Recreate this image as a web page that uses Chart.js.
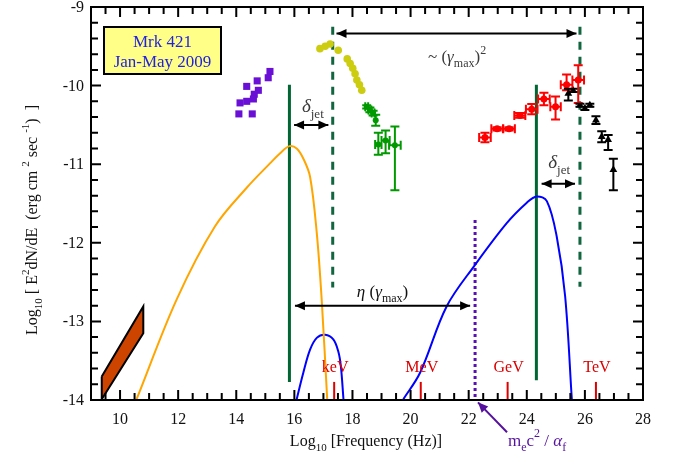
<!DOCTYPE html>
<html>
<head>
<meta charset="utf-8">
<script src="https://cdn.jsdelivr.net/npm/chart.js@4"></script>
<style>
  body { margin: 0; background: #fff; }
  #wrap { width: 676px; height: 462px; position: relative; }
</style>
</head>
<body>
<div id="wrap"><canvas id="sedChart"></canvas></div>
<script>
// values: x = log10 nu (Hz), y = log10 E^2 dN/dE
const radioX = [9.37, 10.80, 10.80, 9.37, 9.37];
const radioY = [-13.70, -12.81, -13.15, -13.99, -13.70];

const opticalX = [14.09, 14.55, 14.13, 14.36, 14.36, 14.72, 14.76, 14.62, 14.59, 15.16, 15.10];
const opticalY = [-10.36, -10.36, -10.22, -10.20, -10.01, -9.94, -10.06, -10.11, -10.17, -9.82, -9.90];

const xrayX = [16.88, 17.06, 17.23, 17.51, 17.82, 17.92, 18.01, 18.09, 18.15, 18.24, 18.32];
const xrayY = [-9.53, -9.50, -9.47, -9.55, -9.66, -9.72, -9.78, -9.85, -9.93, -9.99, -10.06];

const hardX = [18.49, 18.60, 18.71, 18.80, 18.89, 19.14, 19.46];
const hardY = [-10.27, -10.31, -10.35, -10.44, -10.75, -10.70, -10.76];
const hardEx = [0.05, 0.05, 0.05, 0, 0.11, 0.14, 0.20];
const hardEyUp = [0.02, 0.03, 0.03, 0.07, 0.15, 0.13, 0.24];
const hardEyDn = [0.02, 0.03, 0.03, 0.07, 0.13, 0.16, 0.57];

const fermiX = [22.56, 22.98, 23.39, 23.76, 24.17, 24.59, 24.99, 25.37, 25.77];
const fermiY = [-10.66, -10.55, -10.55, -10.38, -10.30, -10.17, -10.27, -9.99, -9.93];
const fermiEx = [0.20, 0.20, 0.20, 0.19, 0.20, 0.20, 0.18, 0.20, 0.20];
const fermiEyUp = [0.06, 0.02, 0.02, 0.03, 0.065, 0.08, 0.13, 0.13, 0.19];
const fermiEyDn = [0.06, 0.02, 0.02, 0.03, 0.065, 0.08, 0.16, 0.07, 0.29];

const magicX = [25.43, 25.59, 25.83, 26.00, 26.17, 26.38, 26.58, 26.80, 26.98];
const magicY = [-10.10, -10.06, -10.25, -10.29, -10.25, -10.44, -10.65, -10.69, -11.07];
const magicEyUp = [0.06, 0.02, 0.02, 0.02, 0.02, 0.05, 0.07, 0.06, 0.14];
const magicEyDn = [0.09, 0.02, 0.02, 0.02, 0.02, 0.05, 0.07, 0.13, 0.26];

const syncX = [10.57, 11.95, 13.27, 14.36, 15.16, 15.51, 15.83, 16.08, 16.31, 16.54, 16.77, 16.94, 17.13];
const syncY = [-13.99, -12.72, -11.79, -11.30, -10.99, -10.86, -10.77, -10.80, -10.93, -11.16, -11.87, -12.72, -13.99];

const icLowX = [16.08, 16.31, 16.54, 16.77, 17.06, 17.34, 17.51, 17.60, 17.69];
const icLowY = [-13.99, -13.65, -13.36, -13.21, -13.17, -13.23, -13.38, -13.57, -13.99];

const icX = [19.75, 20.33, 21.24, 22.22, 23.31, 24.00, 24.34, 24.69, 25.03, 25.32, 25.55];
const icY = [-13.99, -13.65, -12.81, -12.28, -11.75, -11.49, -11.41, -11.47, -11.92, -12.68, -13.99];

// vertical markers: [x, yTop, yBottom]
const peakLines = [[15.83, -9.99, -13.77], [24.33, -9.99, -13.75]];
const cutLines = [[17.32, -9.25, -12.57], [25.83, -9.25, -12.56]];
const klein = [22.22, -11.71, -14.0];

const energyX = [17.37, 20.35, 23.34, 26.38];
const energyNames = ['keV', 'MeV', 'GeV', 'TeV'];

const xTickLabels = [10, 12, 14, 16, 18, 20, 22, 24, 26, 28];
const yTickLabels = [-9, -10, -11, -12, -13, -14];

// arrows: from, to, double headed
const arrows = [
  { from: [17.45, -9.336], to: [25.71, -9.336], both: true },
  { from: [15.99, -10.50], to: [17.17, -10.50], both: true },
  { from: [24.51, -11.25], to: [25.66, -11.25], both: true },
  { from: [16.02, -12.80], to: [22.05, -12.80], both: true },
  { from: [23.32, -14.41], to: [22.32, -14.03], both: false, color: '#55119e' }
];

const serif = '"Liberation Serif", "DejaVu Serif", serif';

function pts(xs, ys) {
  return xs.map((x, i) => ({ x: x, y: ys[i] }));
}

function richText(ctx, x, y, parts, size, color, align) {
  const fontFor = m => {
    const small = m === 'sub' || m === 'sup' || m === 'isub';
    const it = m === 'i' || m === 'isub';
    return (it ? 'italic ' : '') + Math.round(small ? size * 0.7 : size) + 'px ' + serif;
  };
  let w = 0;
  parts.forEach(([t, m]) => { ctx.font = fontFor(m); w += ctx.measureText(t).width; });
  let cx = align === 'center' ? x - w / 2 : (align === 'right' ? x - w : x);
  ctx.fillStyle = color;
  ctx.textAlign = 'left';
  ctx.textBaseline = 'alphabetic';
  parts.forEach(([t, m]) => {
    ctx.font = fontFor(m);
    let dy = 0;
    if (m === 'sub' || m === 'isub') dy = size * 0.3;
    if (m === 'sup') dy = -size * 0.5;
    ctx.fillText(t, cx, y + dy);
    cx += ctx.measureText(t).width;
  });
}

function arrowHead(ctx, x1, y1, x2, y2) {
  const a = Math.atan2(y2 - y1, x2 - x1);
  const len = 10, half = 4.5;
  ctx.beginPath();
  ctx.moveTo(x2, y2);
  ctx.lineTo(x2 - len * Math.cos(a) + half * Math.sin(a), y2 - len * Math.sin(a) - half * Math.cos(a));
  ctx.lineTo(x2 - len * Math.cos(a) - half * Math.sin(a), y2 - len * Math.sin(a) + half * Math.cos(a));
  ctx.closePath();
  ctx.fill();
}

// error bars drawn through the chart scales
const errorBars = {
  id: 'errorBars',
  afterDatasetsDraw(chart) {
    const { ctx, scales: { x, y } } = chart;
    chart.data.datasets.forEach(ds => {
      if (!ds.errors) return;
      const e = ds.errors;
      const cap = 4.5;
      ctx.save();
      ctx.strokeStyle = ds.borderColor;
      ctx.lineWidth = 2;
      ctx.beginPath();
      ds.data.forEach((p, i) => {
        const px = x.getPixelForValue(p.x), py = y.getPixelForValue(p.y);
        if (e.ex && e.ex[i]) {
          const l = x.getPixelForValue(p.x - e.ex[i]), r = x.getPixelForValue(p.x + e.ex[i]);
          ctx.moveTo(l, py); ctx.lineTo(r, py);
          ctx.moveTo(l, py - cap); ctx.lineTo(l, py + cap);
          ctx.moveTo(r, py - cap); ctx.lineTo(r, py + cap);
        }
        if (e.eyUp) {
          const t = y.getPixelForValue(p.y + e.eyUp[i]), b = y.getPixelForValue(p.y - e.eyDn[i]);
          ctx.moveTo(px, t); ctx.lineTo(px, b);
          ctx.moveTo(px - cap, t); ctx.lineTo(px + cap, t);
          ctx.moveTo(px - cap, b); ctx.lineTo(px + cap, b);
        }
      });
      ctx.stroke();
      ctx.restore();
    });
  }
};

// frame, inward ticks, labels and annotations
const decorations = {
  id: 'decorations',
  afterDraw(chart) {
    const { ctx, chartArea: a, scales: { x, y } } = chart;
    ctx.save();

    // energy markers
    ctx.strokeStyle = '#dd0000';
    ctx.lineWidth = 2;
    energyX.forEach((v, i) => {
      const px = x.getPixelForValue(v);
      ctx.beginPath();
      ctx.moveTo(px, y.getPixelForValue(-13.77));
      ctx.lineTo(px, a.bottom);
      ctx.stroke();
      richText(ctx, px + 1, y.getPixelForValue(-13.65), [[energyNames[i], 'n']], 16, '#dd0000', 'center');
    });

    // frame
    ctx.strokeStyle = '#000';
    ctx.lineWidth = 2;
    ctx.strokeRect(a.left, a.top, a.right - a.left, a.bottom - a.top);
    ctx.beginPath();
    for (let v = 9.5; v < 28; v += 0.5) {
      const px = x.getPixelForValue(v);
      const len = Math.abs(v % 2) < 1e-6 ? 10 : 7;
      ctx.moveTo(px, a.bottom); ctx.lineTo(px, a.bottom - len);
      ctx.moveTo(px, a.top); ctx.lineTo(px, a.top + len);
    }
    for (let k = 1; k < 25; k++) {
      const v = -14 + k * 0.2;
      const py = y.getPixelForValue(v);
      const len = k % 5 === 0 ? 10 : 7;
      ctx.moveTo(a.left, py); ctx.lineTo(a.left + len, py);
      ctx.moveTo(a.right, py); ctx.lineTo(a.right - len, py);
    }
    ctx.stroke();

    // tick labels
    xTickLabels.forEach(v => {
      richText(ctx, x.getPixelForValue(v), 424, [[String(v), 'n']], 16, '#111', 'center');
    });
    yTickLabels.forEach(v => {
      richText(ctx, 84, y.getPixelForValue(v) + 5, [[String(v), 'n']], 16, '#111', 'right');
    });

    // axis titles
    richText(ctx, 366, 446, [['Log', 'n'], ['10', 'sub'], [' [Frequency (Hz)]', 'n']], 16, '#111', 'center');
    ctx.save();
    ctx.translate(37, 220);
    ctx.rotate(-Math.PI / 2);
    richText(ctx, 0, 0, [['Log', 'n'], ['10', 'sub'], [' [ E', 'n'], ['2', 'sup'], ['dN/dE  (erg cm ', 'n'],
      ['2', 'sup'], [' sec ', 'n'], ['-1', 'sup'], [')  ]', 'n']], 16, '#111', 'center');
    ctx.restore();

    // arrows
    arrows.forEach(ar => {
      const x1 = x.getPixelForValue(ar.from[0]), y1 = y.getPixelForValue(ar.from[1]);
      const x2 = x.getPixelForValue(ar.to[0]), y2 = y.getPixelForValue(ar.to[1]);
      ctx.strokeStyle = ar.color || '#000';
      ctx.fillStyle = ar.color || '#000';
      ctx.lineWidth = 2;
      ctx.beginPath();
      ctx.moveTo(x1, y1); ctx.lineTo(x2, y2);
      ctx.stroke();
      arrowHead(ctx, x1, y1, x2, y2);
      if (ar.both) arrowHead(ctx, x2, y2, x1, y1);
    });

    // annotation text
    const grey = '#3a3a3a';
    richText(ctx, x.getPixelForValue(16.26), y.getPixelForValue(-10.334), [['δ', 'i'], ['jet', 'sub']], 19, grey, 'left');
    richText(ctx, x.getPixelForValue(24.74), y.getPixelForValue(-11.05), [['δ', 'i'], ['jet', 'sub']], 19, grey, 'left');
    richText(ctx, x.getPixelForValue(20.60), y.getPixelForValue(-9.70),
      [['~ (', 'n'], ['γ', 'i'], ['max', 'sub'], [')', 'n'], ['2', 'sup']], 17, grey, 'left');
    richText(ctx, x.getPixelForValue(18.15), y.getPixelForValue(-12.685),
      [['η', 'i'], [' (', 'n'], ['γ', 'i'], ['max', 'sub'], [')', 'n']], 17, '#111', 'left');
    richText(ctx, x.getPixelForValue(23.35), y.getPixelForValue(-14.58),
      [['m', 'n'], ['e', 'sub'], ['c', 'n'], ['2', 'sup'], [' / ', 'n'], ['α', 'i'], ['f', 'sub']], 17, '#55119e', 'left');

    // source box
    ctx.fillStyle = '#ffff88';
    ctx.fillRect(104, 27, 117, 47);
    ctx.strokeStyle = '#000';
    ctx.lineWidth = 2;
    ctx.strokeRect(104, 27, 117, 47);
    richText(ctx, 162.5, 47, [['Mrk 421', 'n']], 17, '#2222dd', 'center');
    richText(ctx, 162.5, 67, [['Jan-May 2009', 'n']], 17, '#2222dd', 'center');

    ctx.restore();
  }
};

function vline(v, color, dash, width) {
  return {
    data: [{ x: v[0], y: v[1] }, { x: v[0], y: v[2] }],
    showLine: true, pointRadius: 0, borderColor: color, borderWidth: width,
    borderDash: dash, order: 5
  };
}

function curve(xs, ys, color) {
  return {
    data: pts(xs, ys), showLine: true, pointRadius: 0, borderColor: color,
    borderWidth: 2, tension: 0.35, order: 4
  };
}

const datasets = [
  {
    data: pts(radioX, radioY), showLine: true, pointRadius: 0,
    borderColor: '#000', borderWidth: 2, backgroundColor: '#cc4400', fill: 'shape', order: 6
  },
  curve(syncX, syncY, '#ffa500'),
  curve(icLowX, icLowY, '#0000ff'),
  curve(icX, icY, '#0000ff'),
  vline(peakLines[0], '#006633', [], 3),
  vline(peakLines[1], '#006633', [], 3),
  vline(cutLines[0], '#11663f', [8, 7], 3),
  vline(cutLines[1], '#11663f', [8, 7], 3),
  vline(klein, '#5a0fb0', [3, 3], 3),
  {
    data: pts(opticalX, opticalY), pointStyle: 'rect', pointRadius: 5,
    backgroundColor: '#6a0fd6', borderColor: '#6a0fd6', borderWidth: 0, order: 1
  },
  {
    data: pts(xrayX, xrayY), pointStyle: 'circle', pointRadius: 3.8,
    backgroundColor: '#cccc11', borderColor: '#cccc11', borderWidth: 0, order: 1
  },
  {
    data: pts(hardX, hardY), pointStyle: 'circle', pointRadius: 3,
    backgroundColor: '#009900', borderColor: '#009900', borderWidth: 0, order: 1,
    errors: { ex: hardEx, eyUp: hardEyUp, eyDn: hardEyDn }
  },
  {
    data: pts(fermiX, fermiY), pointStyle: 'circle', pointRadius: 3.5,
    backgroundColor: '#ff0000', borderColor: '#ff0000', borderWidth: 0, order: 1,
    errors: { ex: fermiEx, eyUp: fermiEyUp, eyDn: fermiEyDn }
  },
  {
    data: pts(magicX, magicY), pointStyle: 'triangle', pointRadius: 4.5,
    backgroundColor: '#000', borderColor: '#000', borderWidth: 0, order: 1,
    errors: { eyUp: magicEyUp, eyDn: magicEyDn }
  }
];

const ctx = document.getElementById('sedChart').getContext('2d');

const sedChart = new Chart(ctx, {
  type: 'scatter',
  data: { datasets: datasets },
  options: {
    responsive: true,
    maintainAspectRatio: false,
    animation: false,
    events: [],
    layout: { padding: { left: 91, right: 33, top: 7, bottom: 62 } },
    plugins: { legend: { display: false }, tooltip: { enabled: false } },
    scales: {
      x: { type: 'linear', min: 9, max: 28, display: false },
      y: { type: 'linear', min: -14, max: -9, display: false }
    }
  },
  plugins: [errorBars, decorations]
});
</script>
</body>
</html>
